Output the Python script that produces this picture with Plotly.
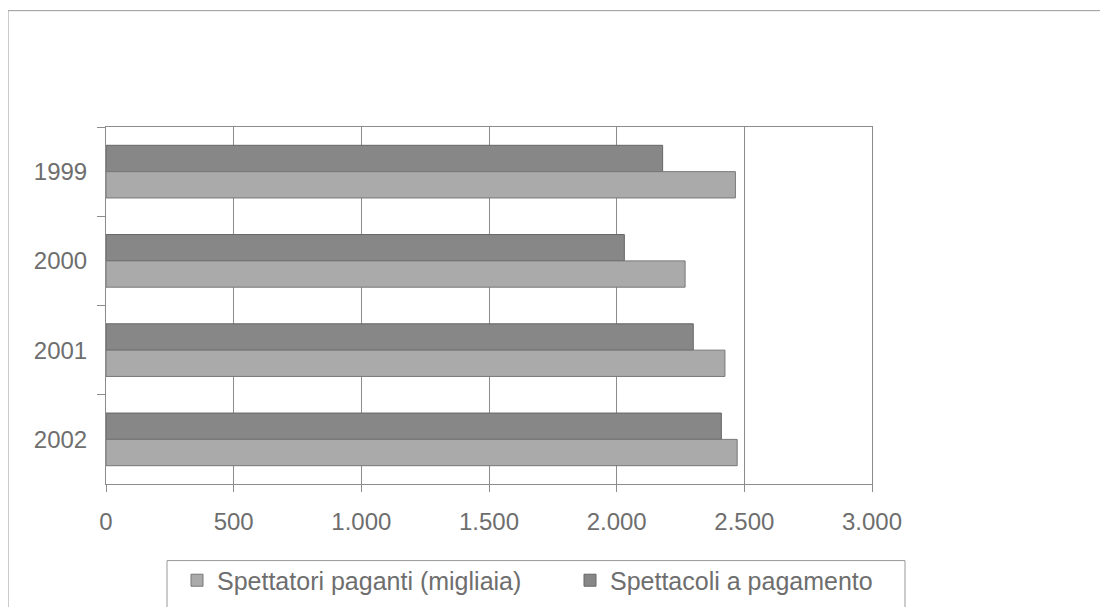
import plotly.graph_objects as go

anni = ["1999", "2000", "2001", "2002"]
spettacoli = [2180, 2030, 2300, 2410]
spettatori = [2465, 2268, 2424, 2472]

font_fam = "Liberation Sans, Arial, sans-serif"
grigio_testo = "#6e6e6e"
grigio_linee = "#8c8c8c"

# page body adds 8px, so margins are a bit smaller than the picture
L, R, T, B = 98, 244, 119, 129
W, H = 1108, 607
pw = W - L - R
ph = H - T - B

def px_x(x):
    return (x - 8 - L) / pw

def px_y(y):
    return (H - B - (y - 8)) / ph

fig = go.Figure()
# dark bar first so it sits on top within each year (axis is reversed)
fig.add_trace(go.Bar(y=anni, x=spettacoli, orientation="h", name="Spettacoli a pagamento",
                     marker=dict(color="#878787", line=dict(color="#666666", width=1)),
                     legend="legend2"))
fig.add_trace(go.Bar(y=anni, x=spettatori, orientation="h", name="Spettatori paganti (migliaia)",
                     marker=dict(color="#aaaaaa", line=dict(color="#777777", width=1)),
                     legend="legend"))

leg = dict(orientation="h", xanchor="left", yanchor="middle", y=px_y(583),
           font=dict(size=25, color=grigio_testo), bgcolor="rgba(0,0,0,0)")

fig.update_layout(
    width=W, height=H,
    margin=dict(l=L, r=R, t=T, b=B),
    paper_bgcolor="white", plot_bgcolor="white",
    barmode="group", bargap=0.41, bargroupgap=0,
    separators=",.",
    font=dict(family=font_fam, size=24, color=grigio_testo),
    showlegend=True,
    legend=dict(leg, x=px_x(217 - 40)),
    legend2=dict(leg, x=px_x(610 - 40)),
)

fig.update_xaxes(range=[0, 3000], dtick=500, tickformat=",d",
                 showgrid=True, gridcolor=grigio_linee, gridwidth=1,
                 showline=True, linecolor=grigio_linee, mirror=True,
                 ticks="outside", ticklen=7, tickcolor=grigio_linee,
                 ticklabelstandoff=9, zeroline=False, fixedrange=True)
fig.update_yaxes(type="category", range=[3.5, -0.5], tickson="boundaries",
                 showgrid=False, showline=True, linecolor=grigio_linee, mirror=True,
                 ticks="outside", ticklen=8, tickcolor=grigio_linee,
                 ticklabelstandoff=13, fixedrange=True)

# outer frame of the original sheet (runs past the right/bottom edges)
fig.add_shape(type="rect", xref="paper", yref="paper",
              x0=px_x(8), x1=2, y0=-1, y1=px_y(10),
              line=dict(color="#999999", width=1), layer="below")
# legend box, cut off by the bottom edge
fig.add_shape(type="rect", xref="paper", yref="paper",
              x0=px_x(167), x1=px_x(905), y0=-0.6, y1=px_y(563),
              line=dict(color="#999999", width=1), layer="below")

fig.write_html("out.html")
